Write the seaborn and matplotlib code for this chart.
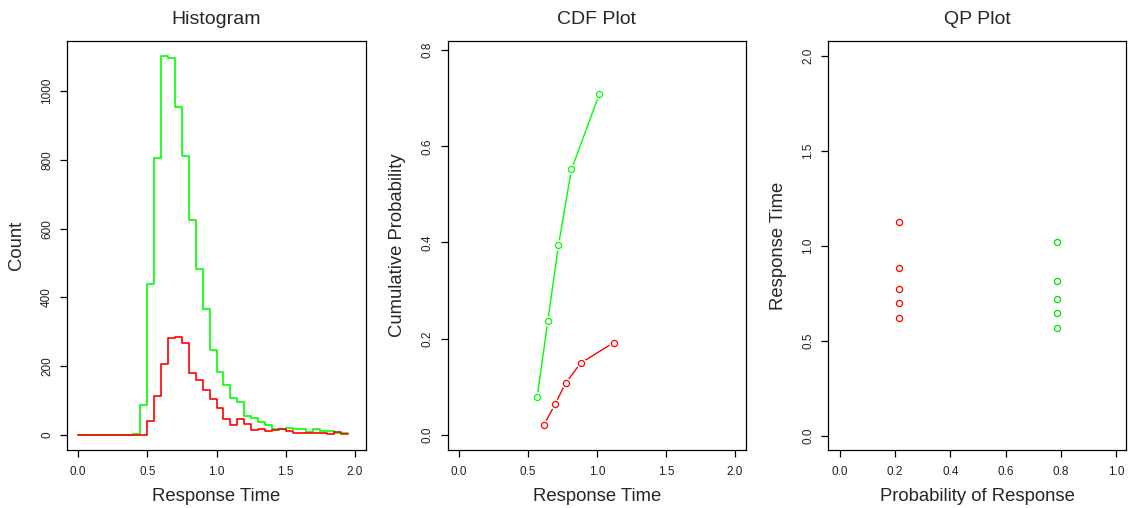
import matplotlib
matplotlib.use("Agg")
import matplotlib.pyplot as plt
import numpy as np
import pandas as pd
import seaborn as sns

# ---------------- data ----------------
bin_left = [round(i * 0.05, 2) for i in range(40)]
green_counts = [0, 0, 0, 0, 0, 0, 0, 0, 2, 87,
                438, 806, 1102, 1097, 954, 812, 624, 482, 365, 248,
                184, 145, 106, 97, 55, 48, 36, 30, 18, 18,
                21, 18, 18, 7, 16, 11, 11, 4, 4, 4]
red_counts = [0, 0, 0, 0, 0, 0, 0, 0, 0, 0,
              39, 112, 206, 282, 286, 268, 179, 160, 131, 104,
              77, 46, 30, 45, 32, 14, 16, 10, 14, 17,
              10, 5, 6, 6, 4, 4, 2, 7, 2, 2]

green_rt = [0.568, 0.645, 0.722, 0.816, 1.019]
green_cdf = [0.079, 0.237, 0.394, 0.552, 0.709]
red_rt = [0.618, 0.698, 0.773, 0.882, 1.123]
red_cdf = [0.021, 0.064, 0.107, 0.149, 0.192]

p_green = [0.7875] * 5
p_red = [0.2125] * 5

hist_df = pd.DataFrame({"rt": bin_left, "green": green_counts, "red": red_counts})
cdf_green = pd.DataFrame({"rt": green_rt, "p": green_cdf})
cdf_red = pd.DataFrame({"rt": red_rt, "p": red_cdf})
qp_green = pd.DataFrame({"p": p_green, "rt": green_rt})
qp_red = pd.DataFrame({"p": p_red, "rt": red_rt})

GREEN = "#00FF00"
RED = "#FF0000"

# ---------------- style ----------------
sns.set_style("white")
plt.rcParams["font.family"] = ["Liberation Sans", "DejaVu Sans"]
plt.rcParams["axes.edgecolor"] = "black"
plt.rcParams["axes.linewidth"] = 0.9

W, H = 1128, 508
fig = plt.figure(figsize=(W / 100, H / 100), dpi=100)

top_px, bot_px = 41, 450
panels_px = [(67, 366), (447.7, 746), (828.3, 1126)]
axes = []
for l, r in panels_px:
    ax = fig.add_axes([l / W, (H - bot_px) / H, (r - l) / W, (bot_px - top_px) / H])
    axes.append(ax)


def style_axis(ax, title, xlabel, ylabel, xticks, yticks, xfmt, yfmt):
    ax.set_xticks(xticks)
    ax.set_yticks(yticks)
    ax.set_xticklabels([xfmt(v) for v in xticks])
    ax.set_yticklabels([yfmt(v) for v in yticks], rotation=90, va="center")
    ax.tick_params(axis="both", direction="out", length=5, width=0.9,
                   labelsize=8.5, colors="black", labelcolor="#222222",
                   bottom=True, left=True)
    ax.tick_params(axis="x", pad=6.5)
    ax.tick_params(axis="y", pad=5)
    ax.set_title(title, fontsize=14, pad=12.5)
    ax.set_xlabel(xlabel, fontsize=13.3)
    ax.set_ylabel(ylabel, fontsize=13.3)
    wpx = ax.get_position().width * W
    hpx = ax.get_position().height * H
    ax.xaxis.set_label_coords(0.5, -46.7 / hpx)
    ax.xaxis.label.set_verticalalignment("center")
    ax.yaxis.set_label_coords(-50 / wpx, 0.5)
    ax.yaxis.label.set_verticalalignment("center")
    for s in ax.spines.values():
        s.set_visible(True)
        s.set_color("black")
        s.set_linewidth(0.9)


# ---------------- Histogram ----------------
ax = axes[0]
sns.lineplot(data=hist_df, x="rt", y="green", ax=ax, color=GREEN, lw=1.2,
             drawstyle="steps-post", estimator=None, sort=False)
sns.lineplot(data=hist_df, x="rt", y="red", ax=ax, color=RED, lw=1.2,
             drawstyle="steps-post", estimator=None, sort=False)
ymax = max(max(green_counts), max(red_counts))
ax.set_xlim(-0.08, 2.08)
ax.set_ylim(-0.04 * ymax, 1.04 * ymax)
style_axis(ax, "Histogram", "Response Time", "Count",
           [0.0, 0.5, 1.0, 1.5, 2.0], [0, 200, 400, 600, 800, 1000],
           lambda v: f"{v:.1f}", lambda v: f"{int(v)}")

# ---------------- CDF ----------------
ax = axes[1]
for df, col in [(cdf_green, GREEN), (cdf_red, RED)]:
    sns.lineplot(data=df, x="rt", y="p", ax=ax, color=col, lw=1.0,
                 estimator=None, sort=False)
    sns.lineplot(data=df, x="rt", y="p", ax=ax, color="white", marker="o",
                 linestyle="", ms=7.5, mfc="white", mec="white", mew=0,
                 estimator=None, sort=False)
    sns.lineplot(data=df, x="rt", y="p", ax=ax, color=col, marker="o",
                 linestyle="", ms=4.4, mfc="none", mec=col, mew=0.9,
                 estimator=None, sort=False)
ax.set_xlim(-0.08, 2.08)
ax.set_ylim(-0.0315, 0.819)
style_axis(ax, "CDF Plot", "Response Time", "Cumulative Probability",
           [0.0, 0.5, 1.0, 1.5, 2.0], [0.0, 0.2, 0.4, 0.6, 0.8],
           lambda v: f"{v:.1f}", lambda v: f"{v:.1f}")

# ---------------- QP ----------------
ax = axes[2]
for df, col in [(qp_red, RED), (qp_green, "#00E000")]:
    sns.lineplot(data=df, x="p", y="rt", ax=ax, color=col, marker="o",
                 linestyle="", ms=4.4, mfc="none", mec=col, mew=0.9,
                 estimator=None, sort=False)
ax.set_xlim(-0.042, 1.036)
ax.set_ylim(-0.076, 2.079)
style_axis(ax, "QP Plot", "Probability of Response", "Response Time",
           [0.0, 0.2, 0.4, 0.6, 0.8, 1.0], [0.0, 0.5, 1.0, 1.5, 2.0],
           lambda v: f"{v:.1f}", lambda v: f"{v:.1f}")

for a in axes:
    leg = a.get_legend()
    if leg is not None:
        leg.remove()

fig.savefig("out.png", dpi=100)
